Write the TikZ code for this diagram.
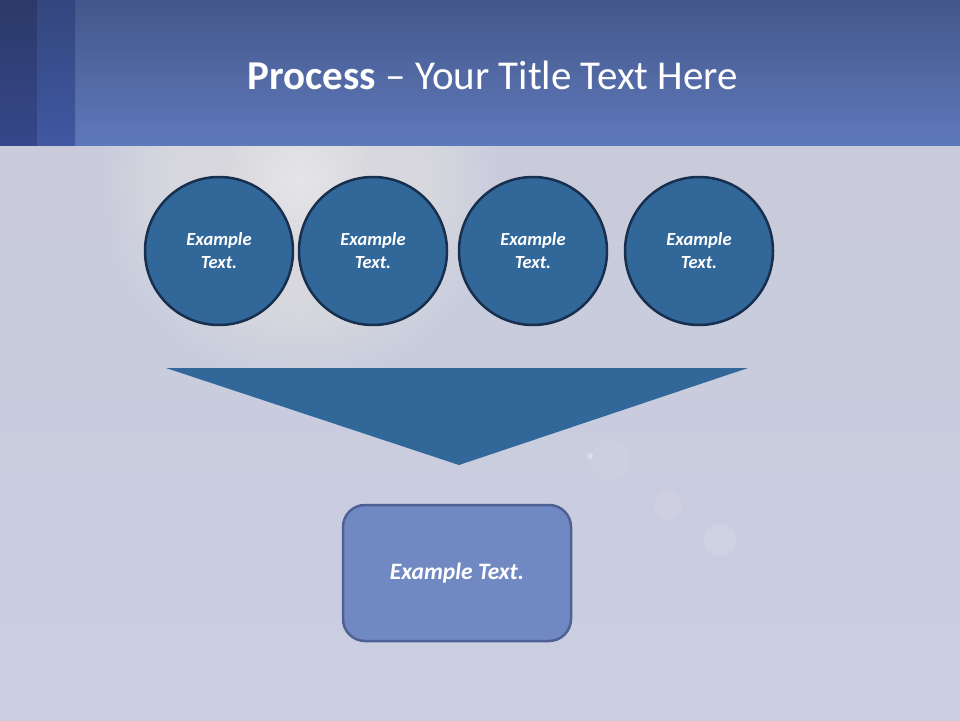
\documentclass[tikz,border=0pt]{standalone}
\usepackage{fontspec}
\setmainfont{Carlito}
\usetikzlibrary{shapes.geometric}
\definecolor{hdrtop}{HTML}{44578A}
\definecolor{hdrbot}{HTML}{5E79BB}
\definecolor{stripAtop}{HTML}{2C3A68}
\definecolor{stripAbot}{HTML}{35478A}
\definecolor{stripBtop}{HTML}{34467E}
\definecolor{stripBbot}{HTML}{4058A2}
\definecolor{bgtop}{HTML}{C9CBDA}
\definecolor{bgbot}{HTML}{CACEE2}
\definecolor{circfill}{HTML}{32679A}
\definecolor{circline}{HTML}{182F4E}
\definecolor{boxfill}{HTML}{7189C3}
\definecolor{boxline}{HTML}{4F6095}
\definecolor{glowcol}{HTML}{F6F6FC}
\tikzset{
  stepcirc/.style={circle, minimum size=148pt, inner sep=0pt, fill=circfill, draw=circline, line width=2.5pt,
    text=white, align=center, font=\fontsize{18.5}{23}\selectfont\bfseries\itshape},
  resultbox/.style={rounded corners=22pt, minimum width=228pt, minimum height=136pt, fill=boxfill, draw=boxline,
    line width=2.5pt, text=white, font=\fontsize{23.5}{28}\selectfont\bfseries\itshape},
  glowring/.style={fill=glowcol, opacity=0.03},
  glowcore/.style={fill=white, opacity=0.05},
}
\begin{document}
\begin{tikzpicture}[x=1pt,y=-1pt]
\useasboundingbox (0,0) rectangle (960,720);
% background
\shade[top color=bgtop, bottom color=bgbot] (0,145) rectangle (960,720);
\foreach \r in {200,194,...,8} {
  \path[glowring] (300,180) circle (\r);
}
\foreach \r in {70,64,...,4} {
  \path[glowcore] (300,180) circle (\r);
}
\fill[white, opacity=0.35] (590,456) circle (3);
\fill[white, opacity=0.08] (668,505) circle (14);
\fill[white, opacity=0.1] (720,540) circle (16);
\fill[white, opacity=0.05] (610,460) circle (20);
% header
\shade[top color=hdrtop, bottom color=hdrbot] (0,0) rectangle (960,145);
\shade[top color=stripAtop, bottom color=stripAbot] (0,0) rectangle (37,145);
\shade[top color=stripBtop, bottom color=stripBbot] (37,0) rectangle (75,145);
\node[text=white, font=\fontsize{41}{48}\selectfont] (title) at (493,75) {\textbf{Process} – Your Title Text Here};
% circles
\node[stepcirc] (c1) at (219,251) {Example\\Text.};
\node[stepcirc] (c2) at (373,251) {Example\\Text.};
\node[stepcirc] (c3) at (533,251) {Example\\Text.};
\node[stepcirc] (c4) at (699,251) {Example\\Text.};
% funnel
\coordinate (fl) at (166,368);
\coordinate (fr) at (748,368);
\coordinate (ft) at (459,465);
\fill[circfill] (fl) -- (fr) -- (ft) -- cycle;
% result box
\node[resultbox] (res) at (457,573) {Example Text.};
\end{tikzpicture}
\end{document}
